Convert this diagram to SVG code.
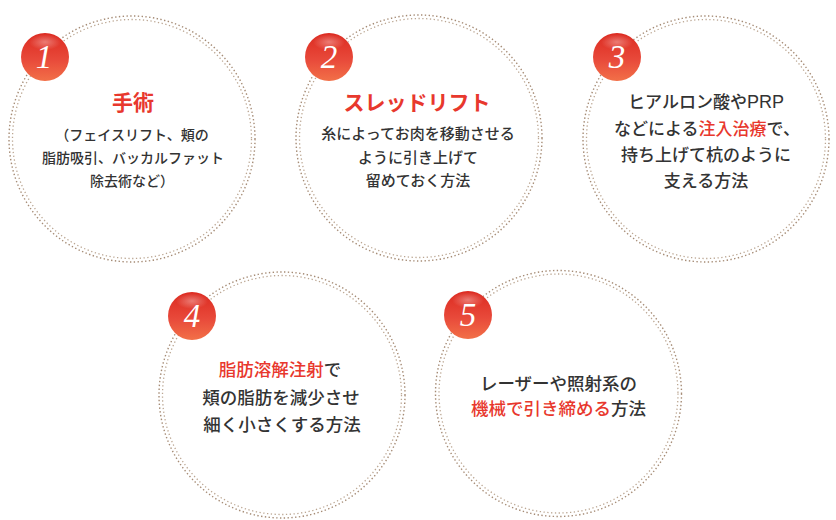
<svg xmlns="http://www.w3.org/2000/svg" width="836" height="520" viewBox="0 0 836 520">
  <defs>
    <linearGradient id="badgeGrad" x1="0" y1="0" x2="0" y2="1">
      <stop offset="0" stop-color="#dc2a20"/>
      <stop offset="0.55" stop-color="#e8493a"/>
      <stop offset="1" stop-color="#f27048"/>
    </linearGradient>
    <radialGradient id="hl" cx="0.5" cy="0.5" r="0.5">
      <stop offset="0" stop-color="#ffffff" stop-opacity="0.35"/>
      <stop offset="1" stop-color="#ffffff" stop-opacity="0"/>
    </radialGradient>
    <g id="ring">
      <circle class="ring" r="123"/>
      <circle class="ring2" r="119.5"/>
    </g>
  </defs>
  <style>
    .ring { fill: none; stroke: #a68c76; stroke-width: 1.4; stroke-dasharray: 1.4 2.4; }
    .ring2 { fill: none; stroke: #bba692; stroke-width: 1.3; stroke-dasharray: 1.3 2.5; }
    .badge { fill: url(#badgeGrad); }
    .hl { fill: url(#hl); }
    .num { font-family: "Liberation Serif", serif; font-style: italic; font-size: 33px; fill: #ffffff; text-anchor: middle; }
    .t { font-family: "Noto Sans CJK JP", "Noto Sans", sans-serif; fill: #333333; text-anchor: middle; font-weight: 500; }
    .title { font-weight: 700; font-size: 21px; fill: #e8382d; }
    .red { fill: #e8382d; }
    .lat { font-family: "Liberation Sans", sans-serif; font-weight: 400; }
  </style>
  <rect width="836" height="520" fill="#ffffff"/>

  <g id="node1">
    <use href="#ring" x="132" y="139"/>
    <circle class="badge" cx="45" cy="57" r="24"/>
    <ellipse class="hl" cx="45" cy="42" rx="16" ry="8"/>
    <text class="num" x="44" y="68">1</text>
    <text class="t title" x="133" y="110">手術</text>
    <text class="t" font-size="14" x="132" y="140">（フェイスリフト、頬の</text>
    <text class="t" font-size="14" x="133" y="163">脂肪吸引、バッカルファット</text>
    <text class="t" font-size="14" x="132" y="186">除去術など）</text>
  </g>

  <g id="node2">
    <use href="#ring" x="419" y="138"/>
    <circle class="badge" cx="329" cy="57" r="24"/>
    <ellipse class="hl" cx="329" cy="42" rx="16" ry="8"/>
    <text class="num" x="329" y="68">2</text>
    <text class="t title" x="417" y="110">スレッドリフト</text>
    <text class="t" font-size="15" x="418" y="139">糸によってお肉を移動させる</text>
    <text class="t" font-size="15" x="418" y="163">ように引き上げて</text>
    <text class="t" font-size="15" x="418" y="186">留めておく方法</text>
  </g>

  <g id="node3">
    <use href="#ring" x="706" y="139"/>
    <circle class="badge" cx="617" cy="57" r="24"/>
    <ellipse class="hl" cx="617" cy="42" rx="16" ry="8"/>
    <text class="num" x="617" y="68">3</text>
    <text class="t" font-size="17" x="706" y="108">ヒアルロン酸や<tspan class="lat" font-size="18">PRP</tspan></text>
    <text class="t" font-size="17" x="707" y="134.5">などによる<tspan class="red">注入治療</tspan>で、</text>
    <text class="t" font-size="17" x="706" y="161">持ち上げて杭のように</text>
    <text class="t" font-size="17" x="706" y="187">支える方法</text>
  </g>

  <g id="node4">
    <use href="#ring" x="282" y="395"/>
    <circle class="badge" cx="192" cy="316" r="24"/>
    <ellipse class="hl" cx="192" cy="301" rx="16" ry="8"/>
    <text class="num" x="192" y="327">4</text>
    <text class="t" font-size="17.5" x="280" y="376"><tspan class="red">脂肪溶解注射</tspan>で</text>
    <text class="t" font-size="17.5" x="281" y="404">頬の脂肪を減少させ</text>
    <text class="t" font-size="17.5" x="282" y="431">細く小さくする方法</text>
  </g>

  <g id="node5">
    <use href="#ring" x="558.5" y="393.5"/>
    <circle class="badge" cx="468" cy="315" r="24"/>
    <ellipse class="hl" cx="468" cy="300" rx="16" ry="8"/>
    <text class="num" x="468" y="326">5</text>
    <text class="t" font-size="17.5" x="558.5" y="390">レーザーや照射系の</text>
    <text class="t" font-size="17.5" x="558.5" y="415"><tspan class="red">機械で引き締める</tspan>方法</text>
  </g>

  <g id="connectors"></g>
</svg>
